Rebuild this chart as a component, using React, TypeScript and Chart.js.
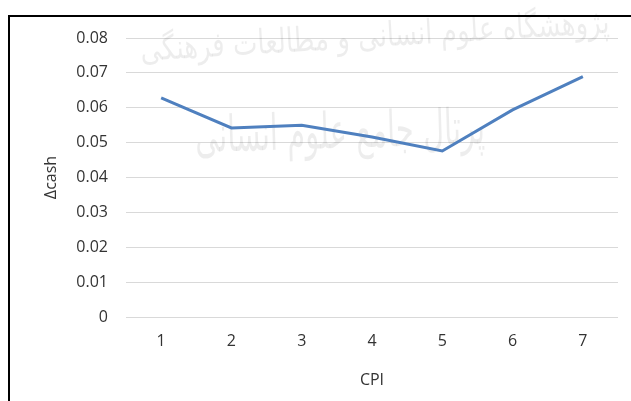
import React, { useEffect, useRef } from "react";
import { Chart, registerables } from "chart.js";

Chart.register(...registerables);

const categories = ["1", "2", "3", "4", "5", "6", "7"];
const cashValues = [0.0628, 0.0542, 0.0550, 0.0516, 0.0476, 0.0594, 0.0689];
const yTickMin = 0;
const yTickMax = 0.08;
const yTickStep = 0.01;
const xTitle = "CPI";
const yTitle = "\u0394cash";
const watermarkLine1 = "پژوهشگاه علوم انسانی و مطالعات فرهنگی";
const watermarkLine2 = "پرتال جامع علوم انسانی";

const FONT = "'Open Sans', 'DejaVu Sans', sans-serif";
const TEXT = "#333333";

const watermarkPlugin = {
  id: "watermark",
  beforeDatasetsDraw(chart: any) {
    const ctx = chart.ctx;
    ctx.save();
    ctx.fillStyle = "rgba(0,0,0,0.07)";
    ctx.textAlign = "center";
    ctx.textBaseline = "middle";
    ctx.direction = "rtl";
    ctx.save();
    ctx.translate(375, 38);
    ctx.rotate(-0.06);
    ctx.font = "34px 'DejaVu Sans'";
    ctx.fillText(watermarkLine1, 0, 0, 470);
    ctx.restore();
    ctx.save();
    ctx.translate(340, 135);
    ctx.rotate(-0.03);
    ctx.font = "50px 'DejaVu Sans'";
    ctx.fillText(watermarkLine2, 0, 0, 290);
    ctx.restore();
    ctx.restore();
  },
};

export default function App() {
  const ref = useRef<HTMLCanvasElement | null>(null);
  useEffect(() => {
    if (!ref.current) return;
    const chart = new Chart(ref.current, {
      type: "line",
      data: {
        labels: categories,
        datasets: [
          {
            data: cashValues,
            borderColor: "#4f80bf",
            borderWidth: 3,
            pointRadius: 0,
            tension: 0,
            fill: false,
          },
        ],
      },
      options: {
        responsive: false,
        animation: false,
        layout: { padding: { top: 38, right: 13, left: 0, bottom: 0 } },
        plugins: { legend: { display: false }, tooltip: { enabled: false } },
        scales: {
          x: {
            offset: true,
            grid: { display: false, drawTicks: false },
            border: { display: false },
            ticks: { color: TEXT, font: { family: FONT, size: 16 }, padding: 15 },
            title: {
              display: true,
              text: xTitle,
              color: TEXT,
              font: { family: FONT, size: 16 },
              padding: { top: 0, bottom: 11 },
            },
            afterFit: (s: any) => {
              s.height = 84;
            },
          },
          y: {
            min: yTickMin,
            max: yTickMax,
            grid: { color: "#d9d9d9", lineWidth: 1, drawTicks: false },
            border: { display: false },
            ticks: {
              stepSize: yTickStep,
              color: TEXT,
              font: { family: FONT, size: 16 },
              padding: 18,
              callback: (v: any) => String(Math.round(Number(v) * 100) / 100),
            },
            title: {
              display: true,
              text: yTitle,
              color: TEXT,
              font: { family: FONT, size: 16 },
              padding: { top: 42, bottom: 0 },
            },
            afterFit: (s: any) => {
              s.width = 126;
            },
          },
        },
      },
      plugins: [watermarkPlugin],
    });
    return () => chart.destroy();
  }, []);
  return (
    <div style={{ position: "fixed", left: 0, top: 0, width: 631, height: 401, background: "#fff" }}>
      <canvas ref={ref} width={631} height={401} style={{ position: "absolute", left: 0, top: 0 }} />
      <div
        style={{
          position: "absolute",
          left: 8,
          top: 15,
          width: 640,
          height: 400,
          borderTop: "2px solid #000",
          borderLeft: "2px solid #000",
          pointerEvents: "none",
        }}
      />
    </div>
  );
}
